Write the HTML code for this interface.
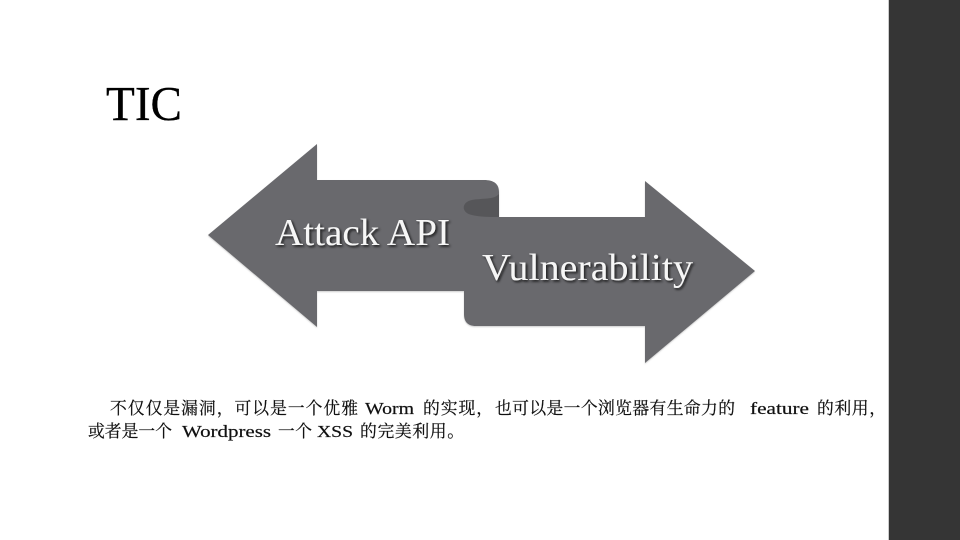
<!DOCTYPE html>
<html lang="zh">
<head>
<meta charset="utf-8">
<title>TIC</title>
<style>
html,body{margin:0;padding:0;background:#fff;width:960px;height:540px;overflow:hidden}
svg{display:block}
.b{font-family:"Liberation Serif","Noto Serif CJK SC",serif;font-size:16.8px;fill:#111;stroke:#111;stroke-width:.2px}
.h{font-family:"Liberation Serif",serif;font-size:38px;fill:#f6f6f6}
</style>
</head>
<body>
<svg width="960" height="540" viewBox="0 0 960 540" xmlns="http://www.w3.org/2000/svg">
<defs>
<filter id="s" x="-20%" y="-30%" width="140%" height="160%">
<feDropShadow dx="1.5" dy="1.5" stdDeviation="1.2" flood-color="#111" flood-opacity="0.9"/>
</filter>
<filter id="a" x="-5%" y="-5%" width="110%" height="110%">
<feDropShadow dx="0" dy="1" stdDeviation="0.8" flood-color="#999" flood-opacity="0.5"/>
</filter>
</defs>
<rect x="889" y="0" width="71" height="540" fill="#353535"/>
<rect x="888" y="0" width="1" height="540" fill="#ccc"/>
<text x="106" y="120" font-family="'Liberation Serif',serif" font-size="49" fill="#000" stroke="#000" stroke-width=".3" textLength="76" lengthAdjust="spacingAndGlyphs">TIC</text>
<path filter="url(#a)" fill="#69696d" d="M208 235 L317 144 V180 H484 C494 180 499 184 499 192 V217 H645 V181 L755 271 L645 363 V326 H476 C467 326 464 321 464 314 V291 H317 V327 Z"/>
<path fill="#565659" d="M499 194 C494 200 482 198 472 200 C461 202 461 213 472 215 C479 217 490 217 499 217 Z"/>
<text class="h" x="275" y="245" textLength="175" lengthAdjust="spacingAndGlyphs" filter="url(#s)">Attack API</text>
<text class="h" x="482" y="280" textLength="211" lengthAdjust="spacingAndGlyphs" filter="url(#s)">Vulnerability</text>
<g>
<text class="b" x="110" y="414" textLength="248">不仅仅是漏洞，可以是一个优雅</text>
<text class="b" x="365" y="414" textLength="49" lengthAdjust="spacingAndGlyphs">Worm</text>
<text class="b" x="423" y="414" textLength="70">的实现，</text>
<text class="b" x="495" y="414" textLength="240">也可以是一个浏览器有生命力的</text>
<text class="b" x="750" y="414" textLength="59" lengthAdjust="spacingAndGlyphs">feature</text>
<text class="b" x="817" y="414" textLength="69">的利用，</text>
<text class="b" x="88" y="437" textLength="84">或者是一个</text>
<text class="b" x="182" y="437" textLength="89" lengthAdjust="spacingAndGlyphs">Wordpress</text>
<text class="b" x="278" y="437" textLength="34">一个</text>
<text class="b" x="317" y="437" textLength="36" lengthAdjust="spacingAndGlyphs">XSS</text>
<text class="b" x="360" y="437" textLength="104">的完美利用。</text>
</g>
</svg>
</body>
</html>
